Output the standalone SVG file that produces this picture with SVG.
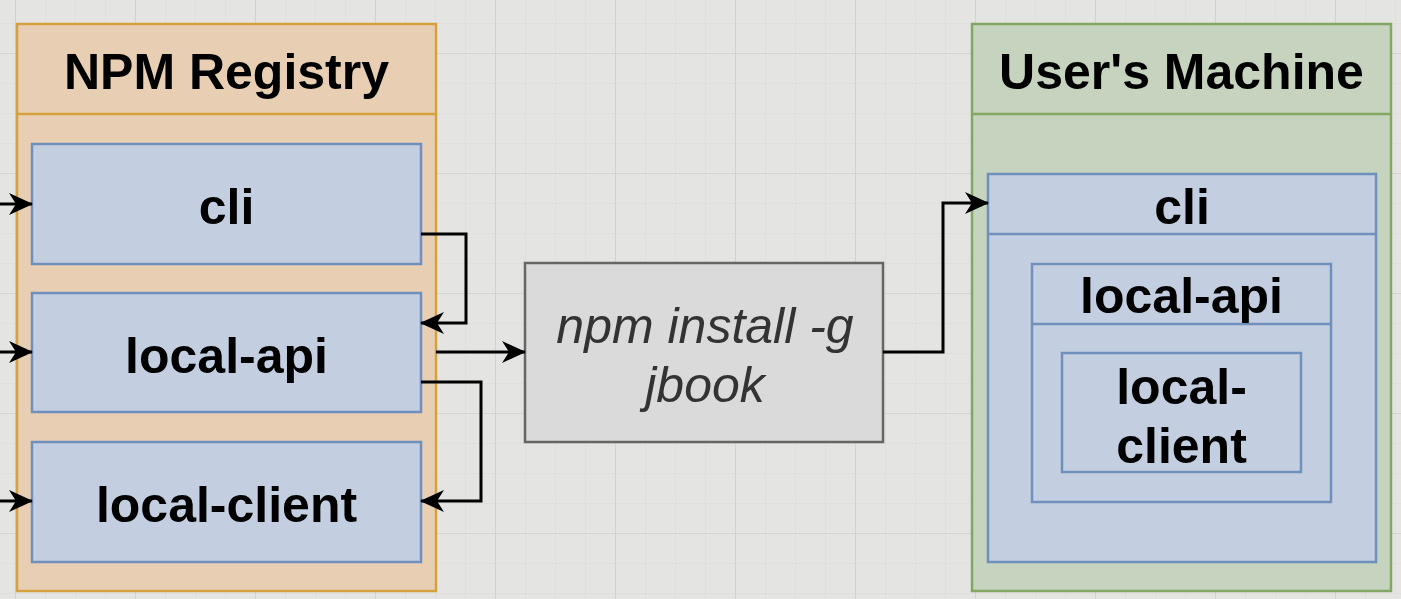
<svg xmlns="http://www.w3.org/2000/svg" width="1401" height="599" viewBox="0 0 1401 599">
<defs>
<pattern id="minor" x="15" y="23" width="30" height="30" patternUnits="userSpaceOnUse">
<path d="M0,0 H30 M0,0 V30" fill="none" stroke="#d9d9d7" stroke-width="1"/>
</pattern>
<pattern id="major" x="15" y="53" width="120" height="120" patternUnits="userSpaceOnUse">
<path d="M0,0 H120 M0,0 V120" fill="none" stroke="#c9c9c7" stroke-width="1.2"/>
</pattern>
<marker id="arr" markerUnits="userSpaceOnUse" viewBox="0 0 24 22" markerWidth="24" markerHeight="22" refX="23" refY="11" orient="auto">
<path d="M0,0 L24,11 L0,22 L7,11 Z" fill="#000"/>
</marker>
</defs>
<style>
.lbl{font-family:"Liberation Sans",Arial,Helvetica,sans-serif;font-weight:bold;font-size:50px;fill:#000;text-anchor:middle}
.cmd{font-family:"Liberation Sans",Arial,Helvetica,sans-serif;font-style:italic;font-size:50px;fill:#333;text-anchor:middle}
.org{fill:#e8cfb4;stroke:#d5a13e;stroke-width:2.5}
.grn{fill:#c5d3bf;stroke:#83a763;stroke-width:2.5}
.blu{fill:#c3cfe0;stroke:#6f8fbd;stroke-width:2.5}
.gry{fill:#dadada;stroke:#666;stroke-width:2.5}
.edge{fill:none;stroke:#000;stroke-width:3;marker-end:url(#arr)}
</style>
<rect width="1401" height="599" fill="#e4e4e2"/>
<rect width="1401" height="599" fill="url(#minor)"/>
<rect width="1401" height="599" fill="url(#major)"/>

<g id="npm-registry">
<rect class="org" x="17" y="24" width="419" height="567"/>
<line x1="17" y1="114" x2="436" y2="114" stroke="#d5a13e" stroke-width="2.5"/>
<text class="lbl" x="226.5" y="89">NPM Registry</text>
</g>
<g id="reg-cli">
<rect class="blu" x="32" y="144" width="389" height="120"/>
<text class="lbl" x="226.5" y="224">cli</text>
</g>
<g id="reg-local-api">
<rect class="blu" x="32" y="293" width="389" height="119"/>
<text class="lbl" x="226.5" y="373">local-api</text>
</g>
<g id="reg-local-client">
<rect class="blu" x="32" y="442" width="389" height="120"/>
<text class="lbl" x="226.5" y="522">local-client</text>
</g>

<g id="npm-install">
<rect class="gry" x="525" y="263" width="358" height="179"/>
<text class="cmd" x="705" y="343">npm install -g</text>
<text class="cmd" x="705" y="402">jbook</text>
</g>

<g id="users-machine">
<rect class="grn" x="972" y="24" width="419" height="567"/>
<line x1="972" y1="114" x2="1391" y2="114" stroke="#83a763" stroke-width="2.5"/>
<text class="lbl" x="1181.5" y="89">User's Machine</text>
</g>
<g id="um-cli">
<rect class="blu" x="988" y="174" width="388" height="388"/>
<line x1="988" y1="234" x2="1376" y2="234" stroke="#6f8fbd" stroke-width="2.5"/>
<text class="lbl" x="1182" y="224">cli</text>
</g>
<g id="um-local-api">
<rect class="blu" x="1032" y="264" width="299" height="238"/>
<line x1="1032" y1="324" x2="1331" y2="324" stroke="#6f8fbd" stroke-width="2.5"/>
<text class="lbl" x="1181.5" y="313">local-api</text>
</g>
<g id="um-local-client">
<rect class="blu" x="1062" y="353" width="239" height="119"/>
<text class="lbl" x="1181.5" y="404">local-</text>
<text class="lbl" x="1181.5" y="463">client</text>
</g>

<g id="connectors">
<path class="edge" d="M-10,204 H32"/>
<path class="edge" d="M-10,352 H32"/>
<path class="edge" d="M-10,501 H32"/>
<path class="edge" d="M421,234 H466 V323 H421"/>
<path class="edge" d="M421,382 H481 V501 H421"/>
<path class="edge" d="M436,352 H525"/>
<path class="edge" d="M883,352 H943 V203 H988"/>
</g>
</svg>
